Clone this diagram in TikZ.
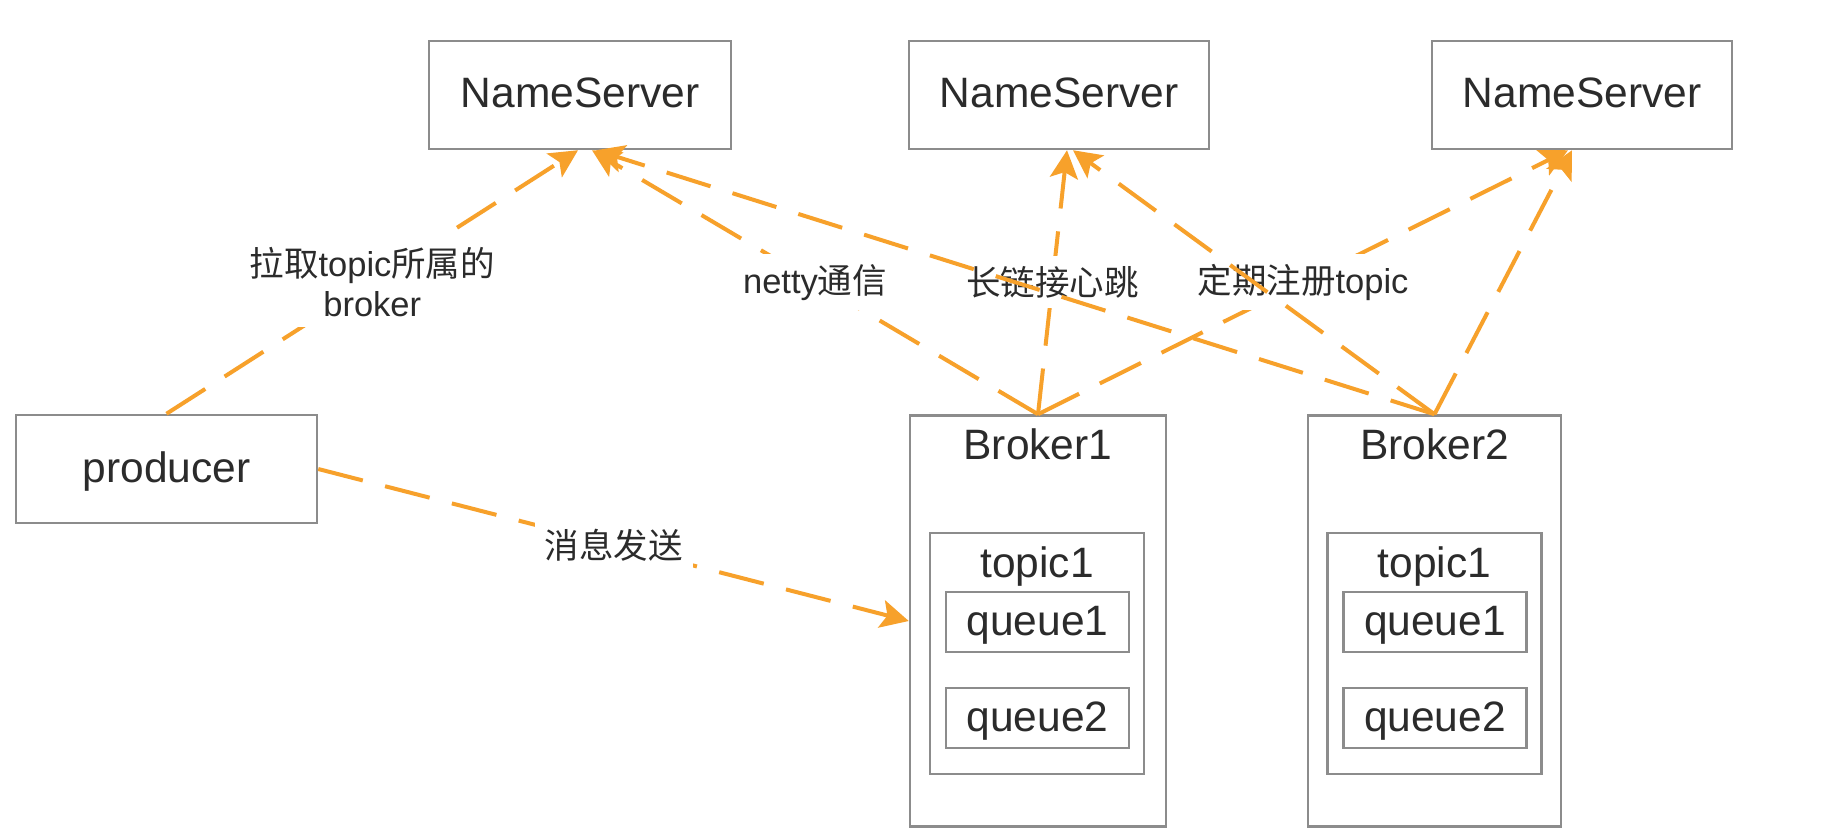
\documentclass[tikz,border=0pt]{standalone}
\usepackage{fontspec}
\setmainfont{Liberation Sans}
\newfontfamily\cjk{Noto Sans CJK SC}
\usetikzlibrary{arrows.meta}
\definecolor{edgeor}{HTML}{F7A12B}
\definecolor{boxgray}{HTML}{8C8C8C}
\definecolor{txt}{HTML}{2B2B2B}
\begin{document}
\begin{tikzpicture}[x=1pt,y=-1pt,
  box/.style={draw=boxgray, line width=2.5pt, fill=white, inner sep=0pt, text=txt,
    font=\fontsize{42.5}{49}\selectfont, text height=26pt, text depth=0pt},
  big/.style={text=txt, font=\fontsize{42.5}{49}\selectfont, inner sep=0pt, anchor=base},
  flow/.style={draw=edgeor, line width=4pt, dash pattern=on 46pt off 23pt,
    -{Stealth[length=28pt,width=28pt,inset=6pt]}},
  lab/.style={fill=white, text=txt, font=\fontsize{34.5}{40}\selectfont, inner sep=10pt, align=center}]
\useasboundingbox (0,0) rectangle (1834,829);
\fill[white] (0,0) rectangle (1834,829);

% NameServers
\node[box, minimum width=302pt, minimum height=108pt] (ns1) at (580,95) {NameServer};
\node[box, minimum width=300pt, minimum height=108pt] (ns2) at (1059,95) {NameServer};
\node[box, minimum width=300pt, minimum height=108pt] (ns3) at (1582,95) {NameServer};

% producer
\node[box, minimum width=301pt, minimum height=108pt] (prod) at (166.5,469) {producer};

% Broker1
\node[box, minimum width=256pt, minimum height=411pt] (b1) at (1038,621) {};
\node[big] (b1t) at (1038,459) {Broker1};
\node[box, minimum width=214pt, minimum height=241pt] (t1) at (1037,653.5) {};
\node[big] (t1t) at (1037,577) {topic1};
\node[box, minimum width=183pt, minimum height=60pt] (q11) at (1037.5,622) {queue1};
\node[box, minimum width=183pt, minimum height=60pt] (q12) at (1037.5,718) {queue2};

% Broker2
\node[box, minimum width=253pt, minimum height=411pt] (b2) at (1434.5,621) {};
\node[big] (b2t) at (1434.5,459) {Broker2};
\node[box, minimum width=214pt, minimum height=241pt] (t2) at (1434.5,653.5) {};
\node[big] (t2t) at (1434.5,577) {topic1};
\node[box, minimum width=183pt, minimum height=60pt] (q21) at (1435,622) {queue1};
\node[box, minimum width=183pt, minimum height=60pt] (q22) at (1435,718) {queue2};

% labelled connectors
\draw[flow] (prod.north) -- node[lab] (l1) {{\cjk 拉取}topic{\cjk 所属的}\\broker} ([xshift=-2pt]ns1.south);
\draw[flow] (b1.north) -- node[lab] (l2) {netty{\cjk 通信}} ([xshift=12pt]ns1.south);
\draw[flow] (b1.north) -- node[lab] (l3) {\cjk 长链接心跳} ([xshift=8pt]ns2.south);
\draw[flow] (b1.north) -- node[lab] (l4) {{\cjk 定期注册}topic} ([xshift=-14pt]ns3.south);
\draw[flow] (prod.east) -- node[lab] (l5) {\cjk 消息发送} (b1.west);

% unlabelled connectors (drawn over labels)
\draw[flow] (b2.north) -- ([xshift=16pt]ns1.south);
\draw[flow] (b2.north) -- ([xshift=14pt]ns2.south);
\draw[flow] (b2.north) -- ([xshift=-10pt]ns3.south);
\end{tikzpicture}
\end{document}
